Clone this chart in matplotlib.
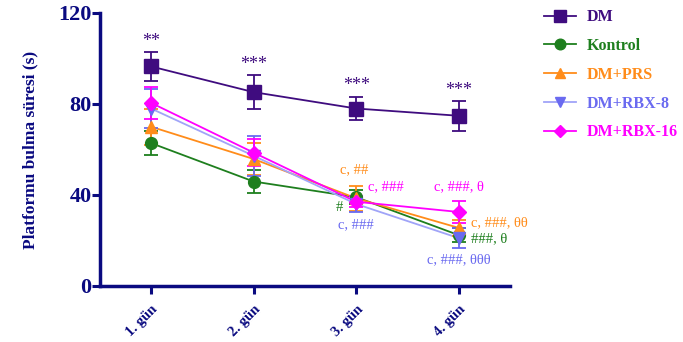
import matplotlib
matplotlib.use("Agg")
import matplotlib.pyplot as plt
from matplotlib.lines import Line2D

plt.rcParams['font.family'] = ['Liberation Serif', 'DejaVu Serif']

days = ["1. gün", "2. gün", "3. gün", "4. gün"]
groups = ["DM", "Kontrol", "DM+PRS", "DM+RBX-8", "DM+RBX-16"]

dm_mean = [96.5, 85.2, 78.0, 74.8]
dm_err = [6.2, 7.6, 5.2, 6.5]
kontrol_mean = [62.8, 45.9, 39.0, 22.3]
kontrol_err = [5.3, 5.0, 3.0, 3.0]
prs_mean = [70.0, 55.8, 38.5, 25.5]
prs_err = [8.0, 7.0, 5.5, 3.5]
rbx8_mean = [78.0, 57.2, 36.0, 21.0]
rbx8_err = [8.5, 8.8, 3.5, 4.5]
rbx16_mean = [80.5, 58.6, 37.0, 32.5]
rbx16_err = [7.0, 6.0, 2.5, 4.7]

star_labels = ["**", "***", "***", "***"]

navy = "#0A0A80"
colors = ["#3F0C7F", "#1E7F1E", "#FF8C1A", "#6A6AF0", "#FF00FF"]
line_colors = ["#3F0C7F", "#1E7F1E", "#FF8C1A", "#A0A4F8", "#FF00FF"]
markers = ["s", "o", "^", "v", "D"]
msizes = [9.5, 8.5, 8.5, 8.5, 7]

means = [dm_mean, kontrol_mean, prs_mean, rbx8_mean, rbx16_mean]
errs = [dm_err, kontrol_err, prs_err, rbx8_err, rbx16_err]

fig = plt.figure(figsize=(6.83, 3.42), dpi=100)
ax = fig.add_axes([0.146, 0.164, 0.601, 0.798])

x = [1, 2, 3, 4]
handles = []
for name, m, e, c, lc, mk, ms in zip(groups, means, errs, colors, line_colors, markers, msizes):
    ax.plot(x, m, color=lc, lw=1.3, zorder=2)
    ax.errorbar(x, m, yerr=e, fmt="none", ecolor=c, elinewidth=1.3,
                capsize=5, capthick=1.3, zorder=3)
    ax.plot(x, m, linestyle="none", marker=mk, ms=ms, color=c,
            markeredgecolor=c, zorder=4)
    handles.append(Line2D([0], [0], color=lc, lw=1.3, marker=mk, ms=ms * 0.9,
                          markerfacecolor=c, markeredgecolor=c))

# significance marks above the DM group
for xi, yi, ei, s in zip(x, dm_mean, dm_err, star_labels):
    ax.text(xi, yi + ei + 1.0, s, ha="center", va="bottom", color=colors[0],
            fontsize=13)

ann_kw = dict(fontsize=10.5, va="center")
ax.text(2.98, 51.0, "c, ##", color=colors[2], ha="center", **ann_kw)
ax.text(3.11, 43.5, "c, ###", color=colors[4], ha="left", **ann_kw)
ax.text(2.87, 34.3, "#", color=colors[1], ha="right", **ann_kw)
ax.text(3.00, 26.8, "c, ###", color=colors[3], ha="center", **ann_kw)
ax.text(4.00, 43.5, "c, ###, θ", color=colors[4], ha="center", **ann_kw)
ax.text(4.12, 28.0, "c, ###, θθ", color=colors[2], ha="left", **ann_kw)
ax.text(4.12, 20.7, "###, θ", color=colors[1], ha="left", **ann_kw)
ax.text(4.00, 11.4, "c, ###, θθθ", color=colors[3], ha="center", **ann_kw)

ax.set_xlim(0.5, 4.5)
ax.set_ylim(0, 120)
ax.set_yticks([0, 40, 80, 120])
ax.set_xticks(x)
ax.set_xticklabels(days, rotation=45, ha="right", rotation_mode="anchor",
                   fontsize=10.5, fontweight="bold", color=navy)
ax.tick_params(direction="out", length=6, width=2.2, color=navy)
ax.tick_params(axis="y", labelsize=16, labelcolor=navy, pad=0)
ax.tick_params(axis="x", pad=6)
for lab in ax.get_yticklabels():
    lab.set_fontweight("bold")
for side in ["top", "right"]:
    ax.spines[side].set_visible(False)
for side in ["left", "bottom"]:
    ax.spines[side].set_color(navy)
    ax.spines[side].set_linewidth(2.5)
ax.set_ylabel("Platformu bulma süresi (s)", fontsize=12.5, fontweight="bold",
              color=navy, labelpad=14)

leg = fig.legend(handles, groups, loc="upper left", bbox_to_anchor=(0.775, 1.015),
                 frameon=False, handlelength=2.0, labelspacing=0.8,
                 prop={"weight": "bold", "size": 11.5}, handletextpad=0.7)
for t, c in zip(leg.get_texts(), colors):
    t.set_color(c)

fig.savefig("out.png", dpi=100)
